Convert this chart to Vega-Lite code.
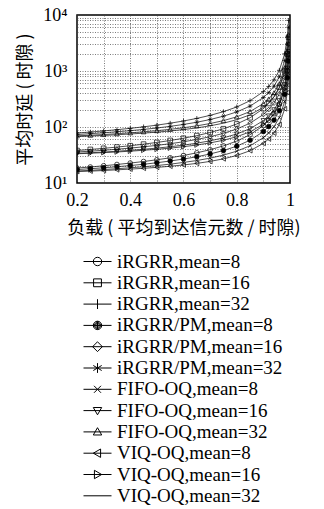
{
  "$schema": "https://vega.github.io/schema/vega-lite/v6.json",
  "autosize": "none",
  "width": 213,
  "height": 168,
  "padding": {"left": 77, "top": 15, "right": 34, "bottom": 326},
  "background": "white",
  "config": {
    "view": {"stroke": "black", "strokeWidth": 1.5},
    "axis": {"domain": false, "ticks": false, "grid": true, "labelFlush": false, "gridColor": "#444", "gridDash": [1, 1.5], "gridWidth": 0.7, "labelFont": "Liberation Serif", "labelFontSize": 18, "labelColor": "black", "titleFont": "Noto Sans CJK SC", "titleFontSize": 18, "titleFontWeight": "normal", "titleColor": "black"},
    "legend": {"symbolSize": 196, "symbolStrokeWidth": 1, "symbolStrokeColor": "black", "symbolFillColor": "transparent", "labelFontSize": 19, "labelFont": "Liberation Serif", "labelOffset": 10, "rowPadding": 1.3, "labelColor": "black", "labelLimit": 400}
  },
  "data": {"values": [
    {"s":"iRGRR,mean=8","x":0.2,"y":18.5},{"s":"iRGRR,mean=8","x":0.25,"y":19.3},{"s":"iRGRR,mean=8","x":0.3,"y":20.3},{"s":"iRGRR,mean=8","x":0.35,"y":21.4},{"s":"iRGRR,mean=8","x":0.4,"y":22.7},{"s":"iRGRR,mean=8","x":0.45,"y":24.2},{"s":"iRGRR,mean=8","x":0.5,"y":26},{"s":"iRGRR,mean=8","x":0.55,"y":28.2},{"s":"iRGRR,mean=8","x":0.6,"y":31},{"s":"iRGRR,mean=8","x":0.65,"y":34.6},{"s":"iRGRR,mean=8","x":0.7,"y":39.3},{"s":"iRGRR,mean=8","x":0.75,"y":46},{"s":"iRGRR,mean=8","x":0.8,"y":56},{"s":"iRGRR,mean=8","x":0.85,"y":72.7},{"s":"iRGRR,mean=8","x":0.9,"y":106},{"s":"iRGRR,mean=8","x":0.92,"y":131},{"s":"iRGRR,mean=8","x":0.94,"y":172.7},{"s":"iRGRR,mean=8","x":0.96,"y":256},{"s":"iRGRR,mean=8","x":0.98,"y":506},{"s":"iRGRR,mean=8","x":0.99,"y":1006},{"s":"iRGRR,mean=8","x":0.995,"y":2006},
    {"s":"iRGRR,mean=16","x":0.2,"y":38},{"s":"iRGRR,mean=16","x":0.25,"y":39.7},{"s":"iRGRR,mean=16","x":0.3,"y":41.6},{"s":"iRGRR,mean=16","x":0.35,"y":43.8},{"s":"iRGRR,mean=16","x":0.4,"y":46.3},{"s":"iRGRR,mean=16","x":0.45,"y":49.4},{"s":"iRGRR,mean=16","x":0.5,"y":53},{"s":"iRGRR,mean=16","x":0.55,"y":57.4},{"s":"iRGRR,mean=16","x":0.6,"y":63},{"s":"iRGRR,mean=16","x":0.65,"y":70.1},{"s":"iRGRR,mean=16","x":0.7,"y":79.7},{"s":"iRGRR,mean=16","x":0.75,"y":93},{"s":"iRGRR,mean=16","x":0.8,"y":113},{"s":"iRGRR,mean=16","x":0.85,"y":146.3},{"s":"iRGRR,mean=16","x":0.9,"y":213},{"s":"iRGRR,mean=16","x":0.92,"y":263},{"s":"iRGRR,mean=16","x":0.94,"y":346.3},{"s":"iRGRR,mean=16","x":0.96,"y":513},{"s":"iRGRR,mean=16","x":0.98,"y":1013},{"s":"iRGRR,mean=16","x":0.99,"y":2013},{"s":"iRGRR,mean=16","x":0.995,"y":4013},
    {"s":"iRGRR,mean=32","x":0.2,"y":78},{"s":"iRGRR,mean=32","x":0.25,"y":81.3},{"s":"iRGRR,mean=32","x":0.3,"y":85.1},{"s":"iRGRR,mean=32","x":0.35,"y":89.5},{"s":"iRGRR,mean=32","x":0.4,"y":94.7},{"s":"iRGRR,mean=32","x":0.45,"y":100.7},{"s":"iRGRR,mean=32","x":0.5,"y":108},{"s":"iRGRR,mean=32","x":0.55,"y":116.9},{"s":"iRGRR,mean=32","x":0.6,"y":128},{"s":"iRGRR,mean=32","x":0.65,"y":142.3},{"s":"iRGRR,mean=32","x":0.7,"y":161.3},{"s":"iRGRR,mean=32","x":0.75,"y":188},{"s":"iRGRR,mean=32","x":0.8,"y":228},{"s":"iRGRR,mean=32","x":0.85,"y":294.7},{"s":"iRGRR,mean=32","x":0.9,"y":428},{"s":"iRGRR,mean=32","x":0.92,"y":528},{"s":"iRGRR,mean=32","x":0.94,"y":694.7},{"s":"iRGRR,mean=32","x":0.96,"y":1028},{"s":"iRGRR,mean=32","x":0.98,"y":2028},{"s":"iRGRR,mean=32","x":0.99,"y":4028},{"s":"iRGRR,mean=32","x":0.995,"y":8028},
    {"s":"iRGRR/PM,mean=8","x":0.2,"y":17.4},{"s":"iRGRR/PM,mean=8","x":0.25,"y":18},{"s":"iRGRR/PM,mean=8","x":0.3,"y":18.7},{"s":"iRGRR/PM,mean=8","x":0.35,"y":19.5},{"s":"iRGRR/PM,mean=8","x":0.4,"y":20.5},{"s":"iRGRR/PM,mean=8","x":0.45,"y":21.6},{"s":"iRGRR/PM,mean=8","x":0.5,"y":23},{"s":"iRGRR/PM,mean=8","x":0.55,"y":24.7},{"s":"iRGRR/PM,mean=8","x":0.6,"y":26.8},{"s":"iRGRR/PM,mean=8","x":0.65,"y":29.4},{"s":"iRGRR/PM,mean=8","x":0.7,"y":33},{"s":"iRGRR/PM,mean=8","x":0.75,"y":38},{"s":"iRGRR/PM,mean=8","x":0.8,"y":45.5},{"s":"iRGRR/PM,mean=8","x":0.85,"y":58},{"s":"iRGRR/PM,mean=8","x":0.9,"y":83},{"s":"iRGRR/PM,mean=8","x":0.92,"y":101.8},{"s":"iRGRR/PM,mean=8","x":0.94,"y":133},{"s":"iRGRR/PM,mean=8","x":0.96,"y":195.5},{"s":"iRGRR/PM,mean=8","x":0.98,"y":383},{"s":"iRGRR/PM,mean=8","x":0.99,"y":758},{"s":"iRGRR/PM,mean=8","x":0.995,"y":1508},
    {"s":"iRGRR/PM,mean=16","x":0.2,"y":35.8},{"s":"iRGRR/PM,mean=16","x":0.25,"y":37},{"s":"iRGRR/PM,mean=16","x":0.3,"y":38.4},{"s":"iRGRR/PM,mean=16","x":0.35,"y":40.1},{"s":"iRGRR/PM,mean=16","x":0.4,"y":42},{"s":"iRGRR/PM,mean=16","x":0.45,"y":44.3},{"s":"iRGRR/PM,mean=16","x":0.5,"y":47},{"s":"iRGRR/PM,mean=16","x":0.55,"y":50.3},{"s":"iRGRR/PM,mean=16","x":0.6,"y":54.5},{"s":"iRGRR/PM,mean=16","x":0.65,"y":59.9},{"s":"iRGRR/PM,mean=16","x":0.7,"y":67},{"s":"iRGRR/PM,mean=16","x":0.75,"y":77},{"s":"iRGRR/PM,mean=16","x":0.8,"y":92},{"s":"iRGRR/PM,mean=16","x":0.85,"y":117},{"s":"iRGRR/PM,mean=16","x":0.9,"y":167},{"s":"iRGRR/PM,mean=16","x":0.92,"y":204.5},{"s":"iRGRR/PM,mean=16","x":0.94,"y":267},{"s":"iRGRR/PM,mean=16","x":0.96,"y":392},{"s":"iRGRR/PM,mean=16","x":0.98,"y":767},{"s":"iRGRR/PM,mean=16","x":0.99,"y":1517},{"s":"iRGRR/PM,mean=16","x":0.995,"y":3017},
    {"s":"iRGRR/PM,mean=32","x":0.2,"y":73.5},{"s":"iRGRR/PM,mean=32","x":0.25,"y":76},{"s":"iRGRR/PM,mean=32","x":0.3,"y":78.9},{"s":"iRGRR/PM,mean=32","x":0.35,"y":82.2},{"s":"iRGRR/PM,mean=32","x":0.4,"y":86},{"s":"iRGRR/PM,mean=32","x":0.45,"y":90.5},{"s":"iRGRR/PM,mean=32","x":0.5,"y":96},{"s":"iRGRR/PM,mean=32","x":0.55,"y":102.7},{"s":"iRGRR/PM,mean=32","x":0.6,"y":111},{"s":"iRGRR/PM,mean=32","x":0.65,"y":121.7},{"s":"iRGRR/PM,mean=32","x":0.7,"y":136},{"s":"iRGRR/PM,mean=32","x":0.75,"y":156},{"s":"iRGRR/PM,mean=32","x":0.8,"y":186},{"s":"iRGRR/PM,mean=32","x":0.85,"y":236},{"s":"iRGRR/PM,mean=32","x":0.9,"y":336},{"s":"iRGRR/PM,mean=32","x":0.92,"y":411},{"s":"iRGRR/PM,mean=32","x":0.94,"y":536},{"s":"iRGRR/PM,mean=32","x":0.96,"y":786},{"s":"iRGRR/PM,mean=32","x":0.98,"y":1536},{"s":"iRGRR/PM,mean=32","x":0.99,"y":3036},{"s":"iRGRR/PM,mean=32","x":0.995,"y":6036},
    {"s":"FIFO-OQ,mean=8","x":0.2,"y":16.4},{"s":"FIFO-OQ,mean=8","x":0.25,"y":16.8},{"s":"FIFO-OQ,mean=8","x":0.3,"y":17.4},{"s":"FIFO-OQ,mean=8","x":0.35,"y":18},{"s":"FIFO-OQ,mean=8","x":0.4,"y":18.7},{"s":"FIFO-OQ,mean=8","x":0.45,"y":19.5},{"s":"FIFO-OQ,mean=8","x":0.5,"y":20.5},{"s":"FIFO-OQ,mean=8","x":0.55,"y":21.7},{"s":"FIFO-OQ,mean=8","x":0.6,"y":23.3},{"s":"FIFO-OQ,mean=8","x":0.65,"y":25.2},{"s":"FIFO-OQ,mean=8","x":0.7,"y":27.8},{"s":"FIFO-OQ,mean=8","x":0.75,"y":31.5},{"s":"FIFO-OQ,mean=8","x":0.8,"y":37},{"s":"FIFO-OQ,mean=8","x":0.85,"y":46.2},{"s":"FIFO-OQ,mean=8","x":0.9,"y":64.5},{"s":"FIFO-OQ,mean=8","x":0.92,"y":78.3},{"s":"FIFO-OQ,mean=8","x":0.94,"y":101.2},{"s":"FIFO-OQ,mean=8","x":0.96,"y":147},{"s":"FIFO-OQ,mean=8","x":0.98,"y":284.5},{"s":"FIFO-OQ,mean=8","x":0.99,"y":559.5},{"s":"FIFO-OQ,mean=8","x":0.995,"y":1109.5},
    {"s":"FIFO-OQ,mean=16","x":0.2,"y":33.8},{"s":"FIFO-OQ,mean=16","x":0.25,"y":34.7},{"s":"FIFO-OQ,mean=16","x":0.3,"y":35.7},{"s":"FIFO-OQ,mean=16","x":0.35,"y":36.9},{"s":"FIFO-OQ,mean=16","x":0.4,"y":38.3},{"s":"FIFO-OQ,mean=16","x":0.45,"y":40},{"s":"FIFO-OQ,mean=16","x":0.5,"y":42},{"s":"FIFO-OQ,mean=16","x":0.55,"y":44.4},{"s":"FIFO-OQ,mean=16","x":0.6,"y":47.5},{"s":"FIFO-OQ,mean=16","x":0.65,"y":51.4},{"s":"FIFO-OQ,mean=16","x":0.7,"y":56.7},{"s":"FIFO-OQ,mean=16","x":0.75,"y":64},{"s":"FIFO-OQ,mean=16","x":0.8,"y":75},{"s":"FIFO-OQ,mean=16","x":0.85,"y":93.3},{"s":"FIFO-OQ,mean=16","x":0.9,"y":130},{"s":"FIFO-OQ,mean=16","x":0.92,"y":157.5},{"s":"FIFO-OQ,mean=16","x":0.94,"y":203.3},{"s":"FIFO-OQ,mean=16","x":0.96,"y":295},{"s":"FIFO-OQ,mean=16","x":0.98,"y":570},{"s":"FIFO-OQ,mean=16","x":0.99,"y":1120},{"s":"FIFO-OQ,mean=16","x":0.995,"y":2220},
    {"s":"FIFO-OQ,mean=32","x":0.2,"y":69.5},{"s":"FIFO-OQ,mean=32","x":0.25,"y":71.3},{"s":"FIFO-OQ,mean=32","x":0.3,"y":73.4},{"s":"FIFO-OQ,mean=32","x":0.35,"y":75.8},{"s":"FIFO-OQ,mean=32","x":0.4,"y":78.7},{"s":"FIFO-OQ,mean=32","x":0.45,"y":82},{"s":"FIFO-OQ,mean=32","x":0.5,"y":86},{"s":"FIFO-OQ,mean=32","x":0.55,"y":90.9},{"s":"FIFO-OQ,mean=32","x":0.6,"y":97},{"s":"FIFO-OQ,mean=32","x":0.65,"y":104.9},{"s":"FIFO-OQ,mean=32","x":0.7,"y":115.3},{"s":"FIFO-OQ,mean=32","x":0.75,"y":130},{"s":"FIFO-OQ,mean=32","x":0.8,"y":152},{"s":"FIFO-OQ,mean=32","x":0.85,"y":188.7},{"s":"FIFO-OQ,mean=32","x":0.9,"y":262},{"s":"FIFO-OQ,mean=32","x":0.92,"y":317},{"s":"FIFO-OQ,mean=32","x":0.94,"y":408.7},{"s":"FIFO-OQ,mean=32","x":0.96,"y":592},{"s":"FIFO-OQ,mean=32","x":0.98,"y":1142},{"s":"FIFO-OQ,mean=32","x":0.99,"y":2242},{"s":"FIFO-OQ,mean=32","x":0.995,"y":4442},
    {"s":"VIQ-OQ,mean=8","x":0.2,"y":16},{"s":"VIQ-OQ,mean=8","x":0.25,"y":16.3},{"s":"VIQ-OQ,mean=8","x":0.3,"y":16.7},{"s":"VIQ-OQ,mean=8","x":0.35,"y":17.2},{"s":"VIQ-OQ,mean=8","x":0.4,"y":17.7},{"s":"VIQ-OQ,mean=8","x":0.45,"y":18.3},{"s":"VIQ-OQ,mean=8","x":0.5,"y":19},{"s":"VIQ-OQ,mean=8","x":0.55,"y":19.9},{"s":"VIQ-OQ,mean=8","x":0.6,"y":21},{"s":"VIQ-OQ,mean=8","x":0.65,"y":22.4},{"s":"VIQ-OQ,mean=8","x":0.7,"y":24.3},{"s":"VIQ-OQ,mean=8","x":0.75,"y":27},{"s":"VIQ-OQ,mean=8","x":0.8,"y":31},{"s":"VIQ-OQ,mean=8","x":0.85,"y":37.7},{"s":"VIQ-OQ,mean=8","x":0.9,"y":51},{"s":"VIQ-OQ,mean=8","x":0.92,"y":61},{"s":"VIQ-OQ,mean=8","x":0.94,"y":77.7},{"s":"VIQ-OQ,mean=8","x":0.96,"y":111},{"s":"VIQ-OQ,mean=8","x":0.98,"y":211},{"s":"VIQ-OQ,mean=8","x":0.99,"y":411},{"s":"VIQ-OQ,mean=8","x":0.995,"y":811},
    {"s":"VIQ-OQ,mean=16","x":0.2,"y":33.3},{"s":"VIQ-OQ,mean=16","x":0.25,"y":34},{"s":"VIQ-OQ,mean=16","x":0.3,"y":34.9},{"s":"VIQ-OQ,mean=16","x":0.35,"y":35.8},{"s":"VIQ-OQ,mean=16","x":0.4,"y":37},{"s":"VIQ-OQ,mean=16","x":0.45,"y":38.4},{"s":"VIQ-OQ,mean=16","x":0.5,"y":40},{"s":"VIQ-OQ,mean=16","x":0.55,"y":42},{"s":"VIQ-OQ,mean=16","x":0.6,"y":44.5},{"s":"VIQ-OQ,mean=16","x":0.65,"y":47.7},{"s":"VIQ-OQ,mean=16","x":0.7,"y":52},{"s":"VIQ-OQ,mean=16","x":0.75,"y":58},{"s":"VIQ-OQ,mean=16","x":0.8,"y":67},{"s":"VIQ-OQ,mean=16","x":0.85,"y":82},{"s":"VIQ-OQ,mean=16","x":0.9,"y":112},{"s":"VIQ-OQ,mean=16","x":0.92,"y":134.5},{"s":"VIQ-OQ,mean=16","x":0.94,"y":172},{"s":"VIQ-OQ,mean=16","x":0.96,"y":247},{"s":"VIQ-OQ,mean=16","x":0.98,"y":472},{"s":"VIQ-OQ,mean=16","x":0.99,"y":922},{"s":"VIQ-OQ,mean=16","x":0.995,"y":1822},
    {"s":"VIQ-OQ,mean=32","x":0.2,"y":67.5},{"s":"VIQ-OQ,mean=32","x":0.25,"y":69},{"s":"VIQ-OQ,mean=32","x":0.3,"y":70.7},{"s":"VIQ-OQ,mean=32","x":0.35,"y":72.7},{"s":"VIQ-OQ,mean=32","x":0.4,"y":75},{"s":"VIQ-OQ,mean=32","x":0.45,"y":77.7},{"s":"VIQ-OQ,mean=32","x":0.5,"y":81},{"s":"VIQ-OQ,mean=32","x":0.55,"y":85},{"s":"VIQ-OQ,mean=32","x":0.6,"y":90},{"s":"VIQ-OQ,mean=32","x":0.65,"y":96.4},{"s":"VIQ-OQ,mean=32","x":0.7,"y":105},{"s":"VIQ-OQ,mean=32","x":0.75,"y":117},{"s":"VIQ-OQ,mean=32","x":0.8,"y":135},{"s":"VIQ-OQ,mean=32","x":0.85,"y":165},{"s":"VIQ-OQ,mean=32","x":0.9,"y":225},{"s":"VIQ-OQ,mean=32","x":0.92,"y":270},{"s":"VIQ-OQ,mean=32","x":0.94,"y":345},{"s":"VIQ-OQ,mean=32","x":0.96,"y":495},{"s":"VIQ-OQ,mean=32","x":0.98,"y":945},{"s":"VIQ-OQ,mean=32","x":0.99,"y":1845},{"s":"VIQ-OQ,mean=32","x":0.995,"y":3645}
  ]},
  "encoding": {
    "x": {"field": "x", "type": "quantitative", "scale": {"domain": [0.2, 1], "nice": false, "zero": false},
      "axis": {"values": [0.2,0.3,0.4,0.5,0.6,0.7,0.8,0.9,1], "labelPadding": 8, "labelExpr": "round(datum.value*10) % 2 == 0 ? (datum.value >= 0.999 ? '1' : format(datum.value, '.1f')) : ''", "title": "负载 ( 平均到达信元数 / 时隙)", "titlePadding": 10}},
    "y": {"field": "y", "type": "quantitative", "scale": {"type": "log", "domain": [10, 10000], "nice": false},
      "axis": {"values": [10,20,30,40,50,60,70,80,90,100,200,300,400,500,600,700,800,900,1000,2000,3000,4000,5000,6000,7000,8000,9000,10000], "labelPadding": 10, "labelExpr": "datum.value == 10 ? '10¹' : datum.value == 100 ? '10²' : datum.value == 1000 ? '10³' : datum.value == 10000 ? '10⁴' : ''", "title": "平均时延 ( 时隙 )", "titlePadding": 8}}
  },
  "layer": [
    {"mark": {"type": "line", "stroke": "#222", "strokeWidth": 0.8, "clip": true}, "encoding": {"detail": {"field": "s"}}},
    {"mark": {"type": "point", "size": 22, "stroke": "black", "strokeWidth": 0.7, "opacity": 1, "clip": true},
      "encoding": {
        "shape": {"field": "s", "type": "nominal", "legend": null, "scale": {
          "domain": ["iRGRR,mean=8","iRGRR,mean=16","iRGRR,mean=32","iRGRR/PM,mean=8","iRGRR/PM,mean=16","iRGRR/PM,mean=32","FIFO-OQ,mean=8","FIFO-OQ,mean=16","FIFO-OQ,mean=32","VIQ-OQ,mean=8","VIQ-OQ,mean=16","VIQ-OQ,mean=32"],
          "range": ["circle","square","M-1,0L1,0M0,-1L0,1","circle","diamond","M-1,0L1,0M-0.5,-0.87L0.5,0.87M-0.5,0.87L0.5,-0.87","M-0.8,-0.8L0.8,0.8M-0.8,0.8L0.8,-0.8","triangle-down","triangle-up","triangle-left","triangle-right","M0,0"]}},
        "fill": {"condition": {"test": "datum.s === 'iRGRR/PM,mean=8'", "value": "black"}, "value": "transparent"}
      }},
    {"mark": {"type": "point", "opacity": 0, "size": 20},
      "encoding": {
        "shape": {"field": "s", "type": "nominal", "scale": {
          "domain": ["iRGRR,mean=8","iRGRR,mean=16","iRGRR,mean=32","iRGRR/PM,mean=8","iRGRR/PM,mean=16","iRGRR/PM,mean=32","FIFO-OQ,mean=8","FIFO-OQ,mean=16","FIFO-OQ,mean=32","VIQ-OQ,mean=8","VIQ-OQ,mean=16","VIQ-OQ,mean=32"],
          "range": [
            "M-2,0L2,0M0.6,0A0.6,0.6 0 1 1 -0.6,0A0.6,0.6 0 1 1 0.6,0",
            "M-2,0L2,0M-0.56,-0.56L0.56,-0.56L0.56,0.56L-0.56,0.56Z",
            "M-2,0L2,0M0,-0.7L0,0.7",
            "M-2,0L2,0M0.6,0A0.6,0.6 0 1 1 -0.6,0A0.6,0.6 0 1 1 0.6,0M0.45,0A0.45,0.45 0 1 1 -0.45,0A0.45,0.45 0 1 1 0.45,0M0.3,0A0.3,0.3 0 1 1 -0.3,0A0.3,0.3 0 1 1 0.3,0M0.15,0A0.15,0.15 0 1 1 -0.15,0A0.15,0.15 0 1 1 0.15,0M0,-0.6L0,0.6",
            "M-2,0L2,0M0,-0.7L0.7,0L0,0.7L-0.7,0Z",
            "M-2,0L2,0M0,-0.7L0,0.7M-0.6,-0.36L0.6,0.36M-0.6,0.36L0.6,-0.36",
            "M-2,0L2,0M-0.5,-0.5L0.5,0.5M-0.5,0.5L0.5,-0.5",
            "M-2,0L2,0M-0.6,-0.44L0.6,-0.44L0,0.6Z",
            "M-2,0L2,0M-0.6,0.44L0.6,0.44L0,-0.6Z",
            "M-2,0L2,0M0.44,-0.6L0.44,0.6L-0.6,0Z",
            "M-2,0L2,0M-0.44,-0.6L-0.44,0.6L0.6,0Z",
            "M-2,0L2,0"]},
          "legend": {"title": null, "orient": "none", "legendX": 11, "legendY": 237, "direction": "vertical",
            "encode": {"symbols": {"opacity": {"value": 1}}}}},
        "fill": {"value": "transparent"}
      }}
  ],
  "resolve": {"scale": {"shape": "independent"}, "legend": {"shape": "independent"}}
}
